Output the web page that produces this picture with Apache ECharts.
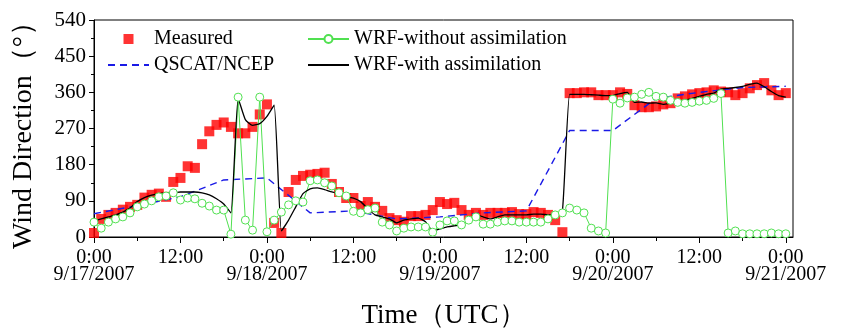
<!DOCTYPE html>
<html>
<head>
<meta charset="utf-8">
<script src="https://cdn.jsdelivr.net/npm/echarts@6/dist/echarts.min.js"></script>
<style>
html, body { margin: 0; background: #fff; }
#chart { width: 858px; height: 329px; }
</style>
</head>
<body>
<div id="chart"></div>
<script>
// hours since 0:00 9/17/2007 (UTC)
const dayLabels = ["9/17/2007", "9/18/2007", "9/19/2007", "9/20/2007", "9/21/2007"];
const majorTicks = [0, 12, 24, 36, 48, 60, 72, 84, 96];
const minorTicks = [6, 18, 30, 42, 54, 66, 78, 90];

// QSCAT/NCEP, every 6 hours
const qscatHours = [0, 6, 12, 18, 24, 30, 36, 42, 48, 54, 60, 66, 72, 78, 84, 90, 96];
const qscat = [58, 78, 100, 142, 147, 60, 65, 45, 50, 60, 65, 265, 265, 345, 360, 372, 375];

// hourly series, hour 0 .. 96
const measured = [
	10, 45, 55, 60, 68, 75, 80, 98, 105, 108,
	100, 137, 147, 176, 172, 231, 263, 279, 285, 274,
	258, 258, 274, 305, 330, 35, 10, 112, 142, 152,
	155, 157, 160, 132, 112, 97, 97, 77, 87, 75,
	65, 47, 42, 38, 52, 52, 55, 67, 87, 82,
	85, 67, 55, 60, 55, 60, 60, 60, 62, 57,
	57, 62, 60, 55, 42, 12, 358, 358, 360, 360,
	353, 353, 353, 360, 356, 328, 323, 323, 325, 330,
	333, 345, 350, 355, 358, 360, 365, 362, 360, 353,
	358, 370, 378, 383, 365, 353, 358
];
const wrfWithout = [
	37, 22, 37, 45, 50, 60, 75, 82, 90, 100,
	102, 110, 92, 97, 95, 84, 77, 67, 67, 7,
	348, 42, 17, 348, 13, 42, 62, 80, 90, 87,
	140, 142, 135, 127, 110, 102, 64, 60, 68, 72,
	37, 30, 15, 22, 25, 25, 25, 12, 30, 40,
	40, 30, 42, 50, 32, 32, 37, 40, 40, 37,
	37, 37, 37, 45, 55, 60, 72, 67, 60, 22,
	15, 10, 343, 333, 346, 348, 355, 360, 350, 348,
	340, 335, 333, 335, 338, 340, 345, 357, 10, 15,
	8, 8, 8, 8, 10, 8, 8
];
const wrfWith = [
	40, 45, 50, 55, 62, 72, 88, 98, 104, 108,
	110, 110, 112, 112, 112, 110, 105, 95, 82, 60,
	345, 292, 278, 282, 300, 328, 15, 42, 75, 108,
	120, 122, 118, 112, 108, 100, 97, 88, 70, 55,
	50, 45, 35, 42, 45, 47, 38, 15, 20, 25,
	28, 30, 42, 55, 50, 45, 50, 55, 55, 55,
	55, 57, 57, 55, 55, 65, 355, 355, 355, 354,
	353, 352, 352, 357, 360, 335, 336, 333, 334, 330,
	333, 336, 340, 345, 350, 355, 358, 368, 370, 372,
	375, 380, 383, 374, 362, 352, 348
];

const serif = "Liberation Serif";
const hourly = values => values.map((v, i) => [i, v]);

const chart = echarts.init(document.getElementById("chart"));

const legendText = {
	color: "#000", fontFamily: serif, fontSize: 20,
	rich: { s: { color: "#000", fontFamily: serif, fontSize: 20 } }
};
const noSymbol = { opacity: 0 };
const legendBase = {
	top: 29, orient: "vertical", padding: 0,
	itemWidth: 41, itemHeight: 10, itemGap: 6,
	textStyle: legendText,
	formatter: name => "{s|" + name + "}"
};

chart.setOption({
	animation: false,
	textStyle: { fontFamily: serif, color: "#000" },
	grid: {
		left: 94, right: 65, top: 20, bottom: 92,
		outerBoundsMode: "none", containLabel: false,
		show: true, borderColor: "#000", borderWidth: 1
	},
	legend: [
		Object.assign({}, legendBase, {
			left: 107,
			data: [
				{ name: "Measured", icon: "path://M0,0H10V10H0Z" },
				{ name: "QSCAT/NCEP", itemStyle: noSymbol }
			]
		}),
		Object.assign({}, legendBase, {
			left: 307,
			data: [
				"WRF-without assimilation",
				{ name: "WRF-with assimilation", itemStyle: noSymbol }
			]
		})
	],
	xAxis: [
		{
			type: "value", min: 0, max: 97, position: "bottom",
			name: "Time（UTC）", nameLocation: "middle", nameGap: 65,
			nameTextStyle: { color: "#000", fontFamily: serif, fontSize: 27 },
			axisLine: { lineStyle: { color: "#000", width: 1 } },
			axisTick: { customValues: majorTicks, length: 6, lineStyle: { color: "#000" } },
			axisLabel: {
				customValues: majorTicks,
				color: "#000", fontFamily: serif, fontSize: 20, lineHeight: 17, margin: 12,
				formatter: v => (v % 24 === 0 ? "0:00\n" + dayLabels[v / 24] : "12:00")
			},
			splitLine: { show: false }
		},
		{
			type: "value", min: 0, max: 97, position: "bottom",
			axisLine: { show: false },
			axisTick: { customValues: minorTicks, length: 4, lineStyle: { color: "#000" } },
			axisLabel: { show: false },
			splitLine: { show: false }
		}
	],
	yAxis: {
		type: "value", min: 0, max: 540, interval: 90,
		name: "Wind Direction（°）", nameLocation: "middle", nameGap: 56,
		nameTextStyle: { color: "#000", fontFamily: serif, fontSize: 28 },
		axisLine: { show: true, lineStyle: { color: "#000", width: 1 } },
		axisTick: { show: true, length: 5, lineStyle: { color: "#000" } },
		minorTick: { show: true, splitNumber: 2, length: 3, lineStyle: { color: "#000" } },
		axisLabel: { color: "#000", fontFamily: serif, fontSize: 21, margin: 8 },
		splitLine: { show: false }
	},
	series: [
		{
			name: "QSCAT/NCEP", type: "line",
			data: qscatHours.map((h, i) => [h, qscat[i]]),
			symbol: "none",
			lineStyle: { color: "#1a1ae6", width: 1.4, type: [7, 5] },
			itemStyle: { color: "#1a1ae6" }
		},
		{
			name: "Measured", type: "scatter",
			data: hourly(measured),
			symbol: "rect", symbolSize: 10,
			itemStyle: { color: "#ff0000" }
		},
		{
			name: "WRF-without assimilation", type: "line",
			data: hourly(wrfWithout),
			symbol: "circle", symbolSize: 8, showSymbol: true,
			lineStyle: { color: "#50e050", width: 1 },
			itemStyle: { color: "#fff", borderColor: "#50e050", borderWidth: 1 }
		},
		{
			name: "WRF-with assimilation", type: "line",
			data: hourly(wrfWith),
			symbol: "none", smooth: 0.15,
			lineStyle: { color: "#000", width: 1.3 },
			itemStyle: { color: "#000" }
		}
	]
});
</script>
</body>
</html>
